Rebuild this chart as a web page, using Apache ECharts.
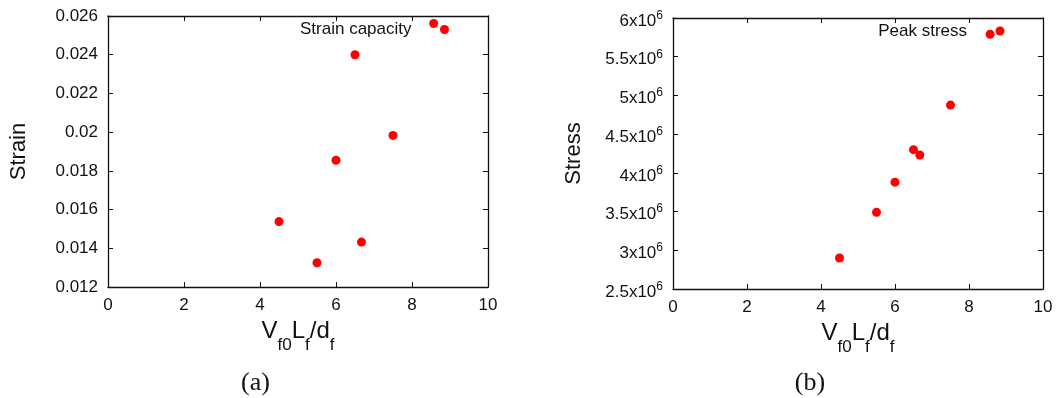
<!DOCTYPE html>
<html><head><meta charset="utf-8">
<script src="https://cdn.jsdelivr.net/npm/echarts@6/dist/echarts.min.js"></script>
<style>html,body{margin:0;padding:0;background:#fff}#c{width:1060px;height:398px}</style>
</head><body><div id="c"></div>
<script>
// ---- data ----
const strainX = [4.5, 5.5, 6.0, 6.5, 6.67, 7.5, 8.57];
const strainY = [0.01538, 0.01325, 0.01855, 0.0240, 0.01432, 0.01983, 0.02561];
const stressX = [4.5, 5.5, 6.0, 6.5, 6.67, 7.5, 8.57];
const stressY = [2.90e6, 3.49e6, 3.88e6, 4.30e6, 4.23e6, 4.875e6, 5.79e6];
const xTicks = [0, 2, 4, 6, 8, 10];
const strainTicks = [0.012, 0.014, 0.016, 0.018, 0.020, 0.022, 0.024, 0.026];
const stressTicks = [2.5e6, 3e6, 3.5e6, 4e6, 4.5e6, 5e6, 5.5e6, 6e6];
const seriesNames = ['Strain capacity', 'Peak stress'];
const yTitles = ['Strain', 'Stress'];
const captions = ['(a)', '(b)'];

const FONT = '"Liberation Sans", Arial, sans-serif';
const INK = '#111';

function rng(t) { return { min: t[0], max: t[t.length - 1], interval: t[1] - t[0] }; }

function baseAxis(gridIndex, pos, ticks, showLabel) {
  const r = rng(ticks);
  return {
    type: 'value', gridIndex, position: pos,
    min: r.min, max: r.max, interval: r.interval,
    axisLine: { show: true, onZero: false, lineStyle: { color: INK, width: 1.3 } },
    axisTick: { show: true, inside: true, length: 5, lineStyle: { color: INK, width: 1 } },
    splitLine: { show: false },
    axisLabel: { show: showLabel, color: INK, fontSize: 17, fontFamily: FONT, margin: 10 }
  };
}

const xName = '{v|V}{s|f0}{v|L}{s|f}{v|/d}{s|f}';
const xNameStyle = {
  color: INK, fontFamily: FONT,
  rich: {
    v: { fontSize: 24, lineHeight: 24, verticalAlign: 'top', fontFamily: FONT, color: INK },
    s: { fontSize: 17, lineHeight: 17, padding: [18, 0, 0, 0], verticalAlign: 'top', fontFamily: FONT, color: INK }
  }
};

const xAxes = [];
const yAxes = [];
[0, 1].forEach(g => {
  const xb = baseAxis(g, 'bottom', xTicks, true);
  xb.name = xName; xb.nameLocation = 'middle'; xb.nameGap = 31; xb.nameTextStyle = xNameStyle;
  xAxes.push(xb);
  xAxes.push(baseAxis(g, 'top', xTicks, false));
});

const yl0 = baseAxis(0, 'left', strainTicks, true);
yl0.axisLabel.formatter = v => String(parseFloat(v.toFixed(4)));
yl0.name = yTitles[0]; yl0.nameLocation = 'middle'; yl0.nameGap = 78;
yl0.nameTextStyle = { fontSize: 22, fontFamily: FONT, color: INK };
yAxes.push(yl0);
yAxes.push(baseAxis(0, 'right', strainTicks, false));

const yl1 = baseAxis(1, 'left', stressTicks, true);
yl1.axisLabel.formatter = v => '{b|' + parseFloat((v / 1e6).toFixed(1)) + 'x10}{s|6}';
yl1.axisLabel.rich = {
  b: { fontSize: 17, lineHeight: 17, padding: [6, 0, 0, 0], fontFamily: FONT, color: INK },
  s: { fontSize: 12, lineHeight: 12, verticalAlign: 'top', fontFamily: FONT, color: INK }
};
yl1.name = yTitles[1]; yl1.nameLocation = 'middle'; yl1.nameGap = 88;
yl1.nameTextStyle = { fontSize: 22, fontFamily: FONT, color: INK };
yAxes.push(yl1);
yAxes.push(baseAxis(1, 'right', stressTicks, false));

const legendCommon = {
  align: 'right', icon: 'circle', itemWidth: 56, itemHeight: 9, padding: 0,
  selectedMode: false, orient: 'horizontal',
  textStyle: { fontSize: 17, fontFamily: FONT, color: INK }
};

const option = {
  animation: false,
  backgroundColor: '#fff',
  grid: [
    { left: 108, top: 16, width: 380, height: 271, outerBoundsMode: 'none', containLabel: false },
    { left: 673, top: 18, width: 370, height: 271, outerBoundsMode: 'none', containLabel: false }
  ],
  xAxis: xAxes,
  yAxis: yAxes,
  legend: [
    Object.assign({}, legendCommon, { data: [seriesNames[0]], right: 611, top: 21 }),
    Object.assign({}, legendCommon, { data: [seriesNames[1]], right: 55.5, top: 22.5 })
  ],
  series: [
    { type: 'scatter', name: seriesNames[0], xAxisIndex: 0, yAxisIndex: 0, symbol: 'circle', symbolSize: 9,
      itemStyle: { color: '#ff0000', opacity: 1 }, data: strainX.map((x, i) => [x, strainY[i]]) },
    { type: 'scatter', name: seriesNames[1], xAxisIndex: 2, yAxisIndex: 2, symbol: 'circle', symbolSize: 9,
      itemStyle: { color: '#ff0000', opacity: 1 }, data: stressX.map((x, i) => [x, stressY[i]]) }
  ],
  graphic: [
    { type: 'text', x: 255.5, y: 383, style: { text: captions[0], font: '26px "Liberation Serif", serif', align: 'center', verticalAlign: 'middle', fill: INK } },
    { type: 'text', x: 810, y: 383, style: { text: captions[1], font: '26px "Liberation Serif", serif', align: 'center', verticalAlign: 'middle', fill: INK } }
  ]
};

const chart = echarts.init(document.getElementById('c'), null, { renderer: 'canvas' });
chart.setOption(option);
</script>
</body></html>
